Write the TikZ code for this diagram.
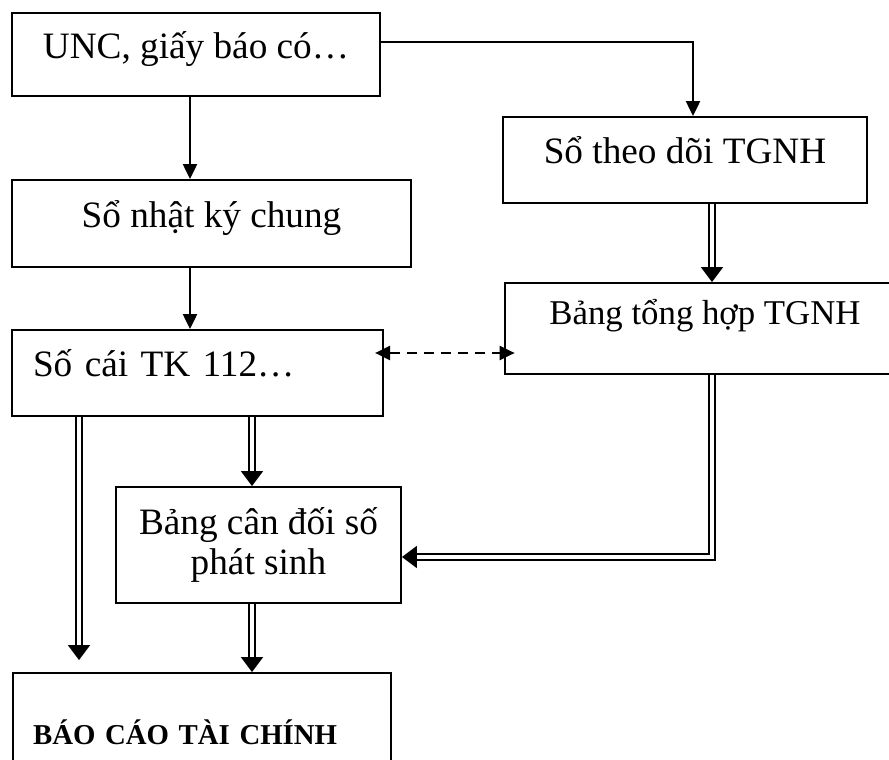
\documentclass[tikz,border=0pt]{standalone}
\usepackage{fontspec}
\setmainfont{Liberation Serif}
\usetikzlibrary{arrows.meta,calc}
\begin{document}
\begin{tikzpicture}[x=0.02cm, y=-0.02cm, line width=1.1pt,
	box/.style={draw, rectangle, inner sep=0pt, font=\fontsize{21.2pt}{23.2pt}\selectfont},
	oneline/.style={text height=12.4pt, text depth=8.3pt},
	arr/.style={-{Triangle[length=8.5pt, width=8pt]}},
	dbl/.style={double, double distance=2.3pt, shorten >=7pt},
	dtip/.style={-{Triangle[length=8.5pt, width=12.5pt]}}]
	\useasboundingbox (0,0) rectangle (889,760);
	\coordinate (c1) at (79,0);
	\coordinate (c2) at (190,0);
	\coordinate (c3) at (252,0);
	\coordinate (c4) at (693,0);
	\coordinate (c5) at (712,0);
	\coordinate (r1) at (0,42);
	\coordinate (r2) at (0,353);
	\coordinate (r3) at (0,557);
	\node[box, oneline, minimum width=7.36cm, minimum height=1.66cm] (unc) at (196,54.5) {UNC, giấy báo có…};
	\node[box, oneline, minimum width=7.98cm, minimum height=1.74cm] (nkc) at (211.5,223.5) {Sổ nhật ký chung};
	\node[box, oneline, minimum width=7.28cm, minimum height=1.72cm] (sotd) at (685,160) {Sổ theo dõi TGNH};
	\node[box, minimum width=8cm, minimum height=1.82cm, font=\fontsize{19.8pt}{22pt}\selectfont, text height=8pt, text depth=12pt] (bth) at (705,328.5) {Bảng tổng hợp TGNH};
	\node[box, oneline, minimum width=7.42cm, minimum height=1.72cm, text width=6.58cm, inner xsep=0.42cm, align=left] (socai) at (197.5,373) {Số cái TK 112…};
	\node[box, minimum width=5.7cm, minimum height=2.32cm, align=center] (bcd) at (258.5,545) {Bảng cân đối số\\phát sinh};
	\node[box, minimum width=7.56cm, minimum height=2.12cm, text width=6.76cm, inner xsep=0.4cm, align=left, font=\fontsize{16.4pt}{19pt}\selectfont\bfseries, text height=24pt, text depth=2.4pt] (bctc) at (202,726) {BÁO CÁO TÀI CHÍNH};
	\draw[arr] (unc.east |- r1) -| (sotd.north -| c4);
	\draw[arr] (unc.south -| c2) -- (nkc.north -| c2);
	\draw[arr] (nkc.south -| c2) -- (socai.north -| c2);
	\draw[{Triangle[length=8.5pt, width=8pt]}-{Triangle[length=8.5pt, width=8pt]}, dash pattern=on 5.7pt off 4pt, shorten <=-5pt, shorten >=-6pt] (socai.east |- r2) -- (bth.west |- r2);
	\draw[dbl] (sotd.south -| c5) -- (bth.north -| c5);
	\draw[dtip] ($(bth.north -| c5)+(0,-15)$) -- (bth.north -| c5);
	\draw[dbl] (bth.south -| c5) |- (bcd.east |- r3);
	\draw[dtip] ($(bcd.east |- r3)+(15,0)$) -- (bcd.east |- r3);
	\draw[dbl] (socai.south -| c1) -- ($(bctc.north -| c1)+(0,-12)$);
	\draw[dtip] ($(bctc.north -| c1)+(0,-27)$) -- ($(bctc.north -| c1)+(0,-12)$);
	\draw[dbl] (socai.south -| c3) -- (bcd.north -| c3);
	\draw[dtip] ($(bcd.north -| c3)+(0,-15)$) -- (bcd.north -| c3);
	\draw[dbl] (bcd.south -| c3) -- (bctc.north -| c3);
	\draw[dtip] ($(bctc.north -| c3)+(0,-15)$) -- (bctc.north -| c3);
\end{tikzpicture}
\end{document}
